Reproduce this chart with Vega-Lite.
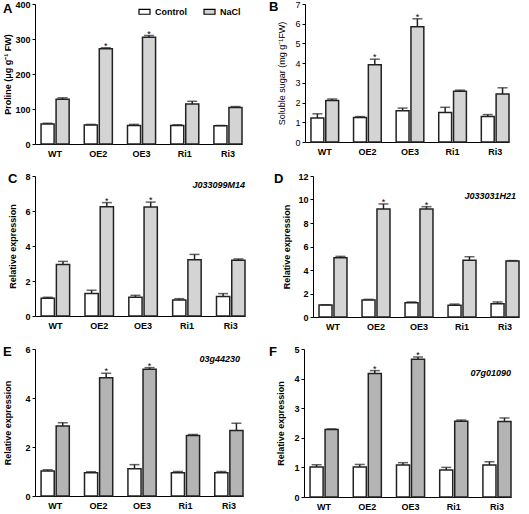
{
  "$schema": "https://vega.github.io/schema/vega-lite/v6.json",
  "padding": {"left": 3, "top": 0, "right": 5, "bottom": 5},
  "background": "white",
  "datasets": {
    "bars": [
      {"p":"A","line":"WT","cond":"Control","value":57,"err":59},
      {"p":"A","line":"WT","cond":"NaCl","value":128,"err":132},
      {"p":"A","line":"OE2","cond":"Control","value":54,"err":56},
      {"p":"A","line":"OE2","cond":"NaCl","value":272,"err":275,"sig":1},
      {"p":"A","line":"OE3","cond":"Control","value":53,"err":56},
      {"p":"A","line":"OE3","cond":"NaCl","value":305,"err":310,"sig":1},
      {"p":"A","line":"Ri1","cond":"Control","value":53,"err":55},
      {"p":"A","line":"Ri1","cond":"NaCl","value":114,"err":122},
      {"p":"A","line":"Ri3","cond":"Control","value":52,"err":53},
      {"p":"A","line":"Ri3","cond":"NaCl","value":104,"err":107},
      {"p":"B","line":"WT","cond":"Control","value":1.22,"err":1.43},
      {"p":"B","line":"WT","cond":"NaCl","value":2.1,"err":2.18},
      {"p":"B","line":"OE2","cond":"Control","value":1.24,"err":1.29},
      {"p":"B","line":"OE2","cond":"NaCl","value":3.92,"err":4.2,"sig":1},
      {"p":"B","line":"OE3","cond":"Control","value":1.58,"err":1.72},
      {"p":"B","line":"OE3","cond":"NaCl","value":5.85,"err":6.25,"sig":1},
      {"p":"B","line":"Ri1","cond":"Control","value":1.5,"err":1.76},
      {"p":"B","line":"Ri1","cond":"NaCl","value":2.58,"err":2.63},
      {"p":"B","line":"Ri3","cond":"Control","value":1.29,"err":1.39},
      {"p":"B","line":"Ri3","cond":"NaCl","value":2.44,"err":2.75},
      {"p":"C","line":"WT","cond":"Control","value":1.01,"err":1.07},
      {"p":"C","line":"WT","cond":"NaCl","value":2.95,"err":3.12},
      {"p":"C","line":"OE2","cond":"Control","value":1.28,"err":1.47},
      {"p":"C","line":"OE2","cond":"NaCl","value":6.25,"err":6.48,"sig":1},
      {"p":"C","line":"OE3","cond":"Control","value":1.07,"err":1.18},
      {"p":"C","line":"OE3","cond":"NaCl","value":6.23,"err":6.51,"sig":1},
      {"p":"C","line":"Ri1","cond":"Control","value":0.91,"err":0.99},
      {"p":"C","line":"Ri1","cond":"NaCl","value":3.22,"err":3.52},
      {"p":"C","line":"Ri3","cond":"Control","value":1.12,"err":1.28},
      {"p":"C","line":"Ri3","cond":"NaCl","value":3.18,"err":3.26},
      {"p":"D","line":"WT","cond":"Control","value":1.02,"err":1.04},
      {"p":"D","line":"WT","cond":"NaCl","value":5.05,"err":5.16},
      {"p":"D","line":"OE2","cond":"Control","value":1.45,"err":1.5},
      {"p":"D","line":"OE2","cond":"NaCl","value":9.19,"err":9.62,"sig":1},
      {"p":"D","line":"OE3","cond":"Control","value":1.22,"err":1.28},
      {"p":"D","line":"OE3","cond":"NaCl","value":9.19,"err":9.39,"sig":1},
      {"p":"D","line":"Ri1","cond":"Control","value":0.99,"err":1.1},
      {"p":"D","line":"Ri1","cond":"NaCl","value":4.82,"err":5.13},
      {"p":"D","line":"Ri3","cond":"Control","value":1.13,"err":1.28},
      {"p":"D","line":"Ri3","cond":"NaCl","value":4.77,"err":4.8},
      {"p":"E","line":"WT","cond":"Control","value":1.02,"err":1.07},
      {"p":"E","line":"WT","cond":"NaCl","value":2.86,"err":2.99},
      {"p":"E","line":"OE2","cond":"Control","value":0.95,"err":0.99},
      {"p":"E","line":"OE2","cond":"NaCl","value":4.83,"err":5.01,"sig":1},
      {"p":"E","line":"OE3","cond":"Control","value":1.11,"err":1.28},
      {"p":"E","line":"OE3","cond":"NaCl","value":5.17,"err":5.24,"sig":1},
      {"p":"E","line":"Ri1","cond":"Control","value":0.95,"err":1.0},
      {"p":"E","line":"Ri1","cond":"NaCl","value":2.47,"err":2.51},
      {"p":"E","line":"Ri3","cond":"Control","value":0.95,"err":1.0},
      {"p":"E","line":"Ri3","cond":"NaCl","value":2.67,"err":2.97},
      {"p":"F","line":"WT","cond":"Control","value":1.01,"err":1.09},
      {"p":"F","line":"WT","cond":"NaCl","value":2.28,"err":2.3},
      {"p":"F","line":"OE2","cond":"Control","value":1.01,"err":1.1},
      {"p":"F","line":"OE2","cond":"NaCl","value":4.17,"err":4.27,"sig":1},
      {"p":"F","line":"OE3","cond":"Control","value":1.08,"err":1.16},
      {"p":"F","line":"OE3","cond":"NaCl","value":4.65,"err":4.73,"sig":1},
      {"p":"F","line":"Ri1","cond":"Control","value":0.91,"err":1.0},
      {"p":"F","line":"Ri1","cond":"NaCl","value":2.56,"err":2.6},
      {"p":"F","line":"Ri3","cond":"Control","value":1.08,"err":1.19},
      {"p":"F","line":"Ri3","cond":"NaCl","value":2.55,"err":2.67}
    ],
    "labels": [
      {"p":"C","line":"Ri3","label":"J033099M14","y":7.5},
      {"p":"D","line":"Ri3","label":"J033031H21","y":10.3},
      {"p":"E","line":"Ri3","label":"03g44230","y":5.6},
      {"p":"F","line":"Ri3","label":"07g01090","y":4.2}
    ]
  },
  "data": {"name": "bars"},
  "resolve": {"scale": {"xOffset": "independent", "fill": "independent"}},
  "spacing": 14,
  "vconcat": [
    {
      "spacing": 26,
      "resolve": {"scale": {"xOffset": "independent", "fill": "independent"}},
      "hconcat": [
        {
          "width": 207, "height": 140,
          "title": {"text": "A", "dx": -32, "offset": -16},
          "transform": [{"filter": "datum.p === 'A'"}],
          "encoding": {
            "x": {"field": "line", "type": "nominal", "sort": ["WT","OE2","OE3","Ri1","Ri3"], "title": null, "scale": {"paddingInner": 0.35, "paddingOuter": 0.07, "align": 1}},
            "xOffset": {"field": "cond", "type": "nominal", "sort": ["Control","NaCl"], "scale": {"paddingInner": 0.13}}
          },
          "layer": [
            {"mark": {"type": "bar", "stroke": "#222", "strokeWidth": 1.5},
             "encoding": {
               "y": {"field": "value", "type": "quantitative", "title": "Proline (μg g⁻¹ FW)", "scale": {"domain": [0, 400]}, "axis": {"values": [0,100,200,300,400], "tickCount": 5, "labelOverlap": false, "titlePadding": 2}},
               "fill": {"field": "cond", "type": "nominal", "scale": {"domain": ["Control","NaCl"], "range": ["#ffffff", "#d4d4d4"]},
                 "legend": {"orient": "top-right", "direction": "horizontal", "title": null, "symbolType": "M-1,-0.45H1V0.45H-1Z", "symbolSize": 121, "symbolStrokeColor": "#000", "symbolStrokeWidth": 1.2, "labelFont": "Liberation Sans", "labelFontSize": 9, "labelFontWeight": "bold", "labelColor": "#000", "columnPadding": 14, "offset": 1, "padding": 0}}
             }},
            {"mark": {"type": "rule", "color": "#222", "strokeWidth": 1.5}, "encoding": {"y": {"field": "value", "type": "quantitative"}, "y2": {"field": "err"}}},
            {"mark": {"type": "tick", "color": "#222", "thickness": 1.5, "size": 10}, "encoding": {"y": {"field": "err", "type": "quantitative"}}},
            {"transform": [{"filter": "datum.sig"}], "mark": {"type": "text", "text": "*", "fontSize": 9, "baseline": "alphabetic", "dy": 1, "font": "Liberation Sans"}, "encoding": {"y": {"field": "err", "type": "quantitative"}}}
          ]
        },
        {
          "width": 204, "height": 138,
          "title": {"text": "B", "dx": -36, "offset": -14},
          "transform": [{"filter": "datum.p === 'B'"}],
          "encoding": {
            "x": {"field": "line", "type": "nominal", "sort": ["WT","OE2","OE3","Ri1","Ri3"], "title": null, "scale": {"paddingInner": 0.35, "paddingOuter": 0.07, "align": 1}},
            "xOffset": {"field": "cond", "type": "nominal", "sort": ["Control","NaCl"], "scale": {"paddingInner": 0.13}}
          },
          "layer": [
            {"mark": {"type": "bar", "stroke": "#222", "strokeWidth": 1.5},
             "encoding": {
               "y": {"field": "value", "type": "quantitative", "title": "Soluble sugar (mg g⁻¹FW)", "scale": {"domain": [0, 7]}, "axis": {"values": [0,1,2,3,4,5,6,7], "tickCount": 8, "labelOverlap": false, "labelFontWeight": "normal", "titleFontWeight": "normal", "titlePadding": 8}},
               "fill": {"condition": {"test": "datum.cond === 'NaCl'", "value": "#d4d4d4"}, "value": "#ffffff"}
             }},
            {"mark": {"type": "rule", "color": "#222", "strokeWidth": 1.5}, "encoding": {"y": {"field": "value", "type": "quantitative"}, "y2": {"field": "err"}}},
            {"mark": {"type": "tick", "color": "#222", "thickness": 1.5, "size": 10}, "encoding": {"y": {"field": "err", "type": "quantitative"}}},
            {"transform": [{"filter": "datum.sig"}], "mark": {"type": "text", "text": "*", "fontSize": 9, "baseline": "alphabetic", "dy": 1, "font": "Liberation Sans"}, "encoding": {"y": {"field": "err", "type": "quantitative"}}}
          ]
        }
      ]
    },
    {
      "spacing": 28,
      "resolve": {"scale": {"xOffset": "independent", "fill": "independent"}},
      "hconcat": [
        {
          "width": 210, "height": 140,
          "title": {"text": "C", "dx": -27, "offset": -14},
          "transform": [{"filter": "datum.p === 'C'"}],
          "encoding": {
            "x": {"field": "line", "type": "nominal", "sort": ["WT","OE2","OE3","Ri1","Ri3"], "title": null, "scale": {"paddingInner": 0.35, "paddingOuter": 0.07, "align": 1}}
          },
          "layer": [
            {"mark": {"type": "bar", "stroke": "#222", "strokeWidth": 1.5},
             "encoding": {
               "xOffset": {"field": "cond", "type": "nominal", "sort": ["Control","NaCl"], "scale": {"paddingInner": 0.13}},
               "y": {"field": "value", "type": "quantitative", "title": "Relative expression", "scale": {"domain": [0, 8]}, "axis": {"values": [0,2,4,6,8], "tickCount": 5, "labelOverlap": false, "titlePadding": 7}},
               "fill": {"condition": {"test": "datum.cond === 'NaCl'", "value": "#d4d4d4"}, "value": "#ffffff"}
             }},
            {"mark": {"type": "rule", "color": "#222", "strokeWidth": 1.5}, "encoding": {"xOffset": {"field": "cond", "type": "nominal", "sort": ["Control","NaCl"]}, "y": {"field": "value", "type": "quantitative"}, "y2": {"field": "err"}}},
            {"mark": {"type": "tick", "color": "#222", "thickness": 1.5, "size": 10}, "encoding": {"xOffset": {"field": "cond", "type": "nominal", "sort": ["Control","NaCl"]}, "y": {"field": "err", "type": "quantitative"}}},
            {"transform": [{"filter": "datum.sig"}], "mark": {"type": "text", "text": "*", "fontSize": 9, "baseline": "alphabetic", "dy": 1, "font": "Liberation Sans"}, "encoding": {"xOffset": {"field": "cond", "type": "nominal", "sort": ["Control","NaCl"]}, "y": {"field": "err", "type": "quantitative"}}},
            {"data": {"name": "labels"}, "transform": [{"filter": "datum.p === 'C'"}], "mark": {"type": "text", "align": "right", "baseline": "middle", "fontSize": 9, "fontStyle": "italic", "fontWeight": "bold", "font": "Liberation Sans"},
             "encoding": {"x": {"field": "line", "type": "nominal", "sort": ["WT","OE2","OE3","Ri1","Ri3"], "bandPosition": 1}, "y": {"field": "y", "type": "quantitative"}, "text": {"field": "label"}}}
          ]
        },
        {
          "width": 206, "height": 141,
          "title": {"text": "D", "dx": -39, "offset": -14},
          "transform": [{"filter": "datum.p === 'D'"}],
          "encoding": {
            "x": {"field": "line", "type": "nominal", "sort": ["WT","OE2","OE3","Ri1","Ri3"], "title": null, "scale": {"paddingInner": 0.35, "paddingOuter": 0.07, "align": 1}}
          },
          "layer": [
            {"mark": {"type": "bar", "stroke": "#222", "strokeWidth": 1.5},
             "encoding": {
               "xOffset": {"field": "cond", "type": "nominal", "sort": ["Control","NaCl"], "scale": {"paddingInner": 0.13}},
               "y": {"field": "value", "type": "quantitative", "title": "Relative expression", "scale": {"domain": [0, 12]}, "axis": {"values": [0,2,4,6,8,10,12], "tickCount": 7, "labelOverlap": false, "titlePadding": 6}},
               "fill": {"condition": {"test": "datum.cond === 'NaCl'", "value": "#d4d4d4"}, "value": "#ffffff"}
             }},
            {"mark": {"type": "rule", "color": "#222", "strokeWidth": 1.5}, "encoding": {"xOffset": {"field": "cond", "type": "nominal", "sort": ["Control","NaCl"]}, "y": {"field": "value", "type": "quantitative"}, "y2": {"field": "err"}}},
            {"mark": {"type": "tick", "color": "#222", "thickness": 1.5, "size": 10}, "encoding": {"xOffset": {"field": "cond", "type": "nominal", "sort": ["Control","NaCl"]}, "y": {"field": "err", "type": "quantitative"}}},
            {"transform": [{"filter": "datum.sig"}], "mark": {"type": "text", "text": "*", "fontSize": 9, "baseline": "alphabetic", "dy": 1, "font": "Liberation Sans"}, "encoding": {"xOffset": {"field": "cond", "type": "nominal", "sort": ["Control","NaCl"]}, "y": {"field": "err", "type": "quantitative"}}},
            {"data": {"name": "labels"}, "transform": [{"filter": "datum.p === 'D'"}], "mark": {"type": "text", "align": "right", "baseline": "middle", "fontSize": 9, "fontStyle": "italic", "fontWeight": "bold", "font": "Liberation Sans", "dx": -3},
             "encoding": {"x": {"field": "line", "type": "nominal", "sort": ["WT","OE2","OE3","Ri1","Ri3"], "bandPosition": 1}, "y": {"field": "y", "type": "quantitative"}, "text": {"field": "label"}}}
          ]
        }
      ]
    },
    {
      "spacing": 25,
      "resolve": {"scale": {"xOffset": "independent", "fill": "independent"}},
      "hconcat": [
        {
          "width": 208, "height": 147,
          "title": {"text": "E", "dx": -32, "offset": -14},
          "transform": [{"filter": "datum.p === 'E'"}],
          "encoding": {
            "x": {"field": "line", "type": "nominal", "sort": ["WT","OE2","OE3","Ri1","Ri3"], "title": null, "scale": {"paddingInner": 0.35, "paddingOuter": 0.07, "align": 1}}
          },
          "layer": [
            {"mark": {"type": "bar", "stroke": "#222", "strokeWidth": 1.5},
             "encoding": {
               "xOffset": {"field": "cond", "type": "nominal", "sort": ["Control","NaCl"], "scale": {"paddingInner": 0.13}},
               "y": {"field": "value", "type": "quantitative", "title": "Relative expression", "scale": {"domain": [0, 6]}, "axis": {"values": [0,2,4,6], "tickCount": 4, "labelOverlap": false, "titlePadding": 12}},
               "fill": {"condition": {"test": "datum.cond === 'NaCl'", "value": "#b4b4b4"}, "value": "#ffffff"}
             }},
            {"mark": {"type": "rule", "color": "#222", "strokeWidth": 1.5}, "encoding": {"xOffset": {"field": "cond", "type": "nominal", "sort": ["Control","NaCl"]}, "y": {"field": "value", "type": "quantitative"}, "y2": {"field": "err"}}},
            {"mark": {"type": "tick", "color": "#222", "thickness": 1.5, "size": 10}, "encoding": {"xOffset": {"field": "cond", "type": "nominal", "sort": ["Control","NaCl"]}, "y": {"field": "err", "type": "quantitative"}}},
            {"transform": [{"filter": "datum.sig"}], "mark": {"type": "text", "text": "*", "fontSize": 9, "baseline": "alphabetic", "dy": 1, "font": "Liberation Sans"}, "encoding": {"xOffset": {"field": "cond", "type": "nominal", "sort": ["Control","NaCl"]}, "y": {"field": "err", "type": "quantitative"}}},
            {"data": {"name": "labels"}, "transform": [{"filter": "datum.p === 'E'"}], "mark": {"type": "text", "align": "right", "baseline": "middle", "fontSize": 9, "fontStyle": "italic", "fontWeight": "bold", "font": "Liberation Sans", "dx": -3},
             "encoding": {"x": {"field": "line", "type": "nominal", "sort": ["WT","OE2","OE3","Ri1","Ri3"], "bandPosition": 1}, "y": {"field": "y", "type": "quantitative"}, "text": {"field": "label"}}}
          ]
        },
        {
          "width": 207, "height": 148,
          "title": {"text": "F", "dx": -35, "offset": -14},
          "transform": [{"filter": "datum.p === 'F'"}],
          "encoding": {
            "x": {"field": "line", "type": "nominal", "sort": ["WT","OE2","OE3","Ri1","Ri3"], "title": null, "scale": {"paddingInner": 0.35, "paddingOuter": 0.07, "align": 1}}
          },
          "layer": [
            {"mark": {"type": "bar", "stroke": "#222", "strokeWidth": 1.5},
             "encoding": {
               "xOffset": {"field": "cond", "type": "nominal", "sort": ["Control","NaCl"], "scale": {"paddingInner": 0.13}},
               "y": {"field": "value", "type": "quantitative", "title": "Relative expression", "scale": {"domain": [0, 5]}, "axis": {"values": [0,1,2,3,4,5], "tickCount": 6, "labelOverlap": false, "titlePadding": 8}},
               "fill": {"condition": {"test": "datum.cond === 'NaCl'", "value": "#b4b4b4"}, "value": "#ffffff"}
             }},
            {"mark": {"type": "rule", "color": "#222", "strokeWidth": 1.5}, "encoding": {"xOffset": {"field": "cond", "type": "nominal", "sort": ["Control","NaCl"]}, "y": {"field": "value", "type": "quantitative"}, "y2": {"field": "err"}}},
            {"mark": {"type": "tick", "color": "#222", "thickness": 1.5, "size": 10}, "encoding": {"xOffset": {"field": "cond", "type": "nominal", "sort": ["Control","NaCl"]}, "y": {"field": "err", "type": "quantitative"}}},
            {"transform": [{"filter": "datum.sig"}], "mark": {"type": "text", "text": "*", "fontSize": 9, "baseline": "alphabetic", "dy": 1, "font": "Liberation Sans"}, "encoding": {"xOffset": {"field": "cond", "type": "nominal", "sort": ["Control","NaCl"]}, "y": {"field": "err", "type": "quantitative"}}},
            {"data": {"name": "labels"}, "transform": [{"filter": "datum.p === 'F'"}], "mark": {"type": "text", "align": "right", "baseline": "middle", "fontSize": 9, "fontStyle": "italic", "fontWeight": "bold", "font": "Liberation Sans"},
             "encoding": {"x": {"field": "line", "type": "nominal", "sort": ["WT","OE2","OE3","Ri1","Ri3"], "bandPosition": 1}, "y": {"field": "y", "type": "quantitative"}, "text": {"field": "label"}}}
          ]
        }
      ]
    }
  ],
  "config": {
    "font": "Liberation Sans",
    "view": {"stroke": null},
    "axis": {"domainColor": "#000", "tickColor": "#000", "labelColor": "#000", "titleColor": "#000", "labelFont": "Liberation Sans", "titleFont": "Liberation Sans", "labelFontSize": 9, "labelFontWeight": "bold", "titleFontSize": 9, "titleFontWeight": "bold", "grid": false, "domainWidth": 1, "tickWidth": 1},
    "axisX": {"ticks": false, "labelPadding": 5, "labelAngle": 0},
    "axisY": {"tickSize": 3, "labelPadding": 2},
    "title": {"fontSize": 13, "fontWeight": "bold", "anchor": "start", "frame": "group", "color": "#000", "font": "Liberation Sans"}
  }
}
